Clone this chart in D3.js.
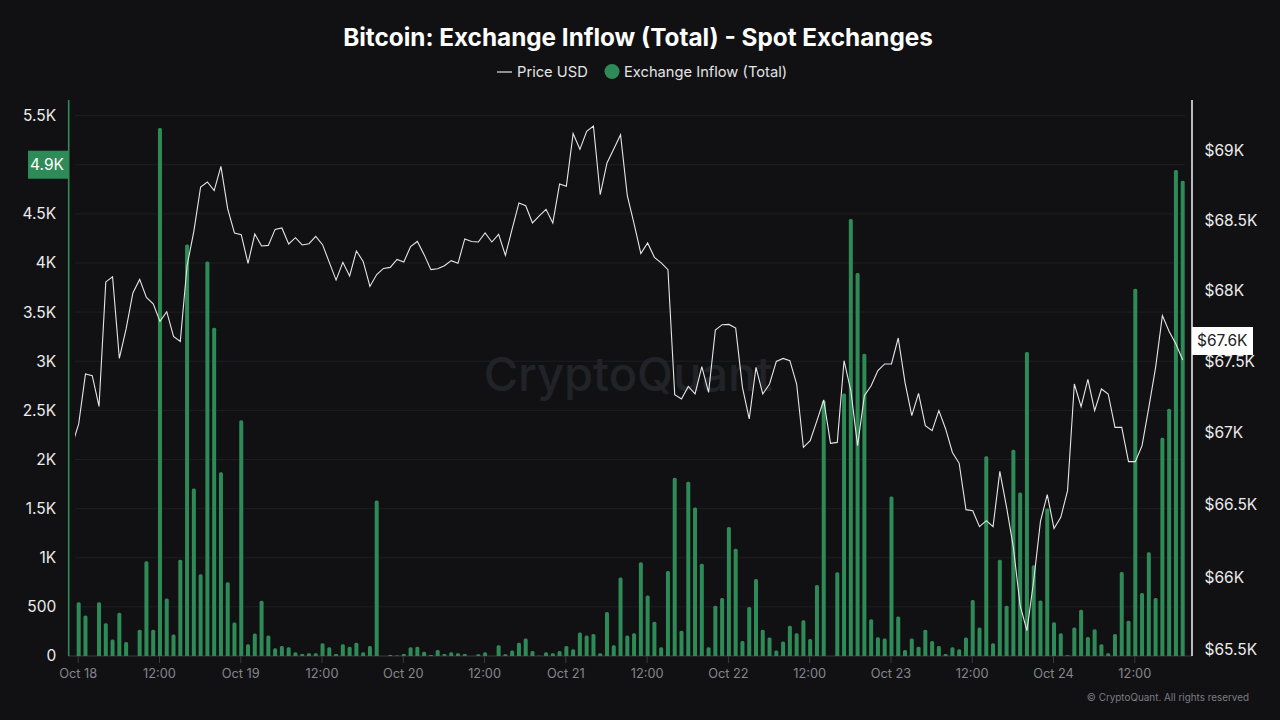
<!DOCTYPE html>
<html>
<head>
<meta charset="utf-8">
<script src="https://cdn.jsdelivr.net/npm/d3@7"></script>
<style>
    html, body { margin: 0; padding: 0; background: #111114; }
    svg { display: block; font-family: Inter, sans-serif; }
</style>
</head>
<body>
<div id="chart"></div>
<script>
// hourly values, first bar is Oct 18 00:00
const inflow = [
    546, 413, 0, 546, 334, 167, 440, 143, 0, 266, 965, 266,
    5373, 586, 218, 979, 4187, 1705, 832, 4014, 3340, 1869, 750, 341,
    2400, 119, 228, 563, 208, 78, 102, 89, 38, 20, 27, 27,
    130, 89, 20, 119, 95, 136, 38, 102, 1582, 0, 10, 5,
    20, 89, 95, 44, 10, 61, 20, 38, 27, 20, 0, 17,
    38, 0, 109, 17, 55, 136, 177, 51, 3, 38, 27, 51,
    102, 68, 239, 208, 225, 27, 447, 109, 798, 208, 232, 955,
    617, 348, 89, 866, 1814, 256, 1773, 1511, 938, 89, 511, 590,
    1313, 1091, 153, 498, 784, 266, 188, 55, 147, 307, 232, 365,
    174, 723, 2600, 0, 853, 2672, 4448, 3899, 3076, 375, 191, 177,
    1623, 402, 61, 177, 95, 266, 153, 102, 20, 89, 68, 188,
    569, 290, 2032, 130, 979, 511, 2100, 1664, 3093, 924, 566, 1500,
    344, 232, 7, 290, 471, 194, 273, 119, 27, 225, 856, 358,
    3737, 641, 1057, 590, 2220, 2517, 4946, 4837
];

const price = [
    67063, 67413, 67401, 67186, 68064, 68101, 67523, 67731, 67986, 68082, 67954, 67908,
    67784, 67853, 67678, 67643, 68179, 68424, 68741, 68777, 68715, 68889, 68584, 68412,
    68400, 68196, 68405, 68320, 68324, 68438, 68448, 68334, 68379, 68327, 68336, 68388,
    68329, 68203, 68077, 68203, 68106, 68284, 68210, 68032, 68116, 68160, 68167, 68224,
    68206, 68315, 68352, 68258, 68151, 68158, 68179, 68215, 68196, 68370, 68352, 68348,
    68412, 68348, 68402, 68253, 68441, 68627, 68607, 68484, 68534, 68581, 68484, 68763,
    68746, 69125, 69012, 69141, 69180, 68686, 68914, 69015, 69117, 68679, 68477, 68265,
    68341, 68239, 68199, 68151, 67268, 67238, 67326, 67273, 67465, 67284, 67723, 67761,
    67763, 67737, 67319, 67098, 67460, 67273, 67343, 67502, 67523, 67507, 67343, 66899,
    66946, 67086, 67231, 66927, 66934, 67507, 67296, 66911, 67261, 67331, 67437, 67484,
    67484, 67667, 67354, 67121, 67277, 67051, 67016, 67156, 67028, 66864, 66788, 66466,
    66459, 66348, 66390, 66348, 66732, 66482, 66205, 65804, 65632, 65975, 66385, 66570,
    66336, 66413, 66598, 67343, 67184, 67375, 67156, 67308, 67273, 67039, 67039, 66800,
    66800, 66911, 67179, 67460, 67825, 67713, 67625, 67512
];
// price just before the first bar, the line runs in from the plot edge
const priceBefore = 66911;

const inflowTicks = [0, 500, 1000, 1500, 2000, 2500, 3000, 3500, 4000, 4500, 5500];
const gridExtra = [5000];
const priceTicks = [65500, 66000, 66500, 67000, 67500, 68000, 68500, 69000];
const timeTickHours = [0, 12, 24, 36, 48, 60, 72, 84, 96, 108, 120, 132, 144, 156];
const timeTickLabels = ['Oct 18', '12:00', 'Oct 19', '12:00', 'Oct 20', '12:00', 'Oct 21', '12:00',
    'Oct 22', '12:00', 'Oct 23', '12:00', 'Oct 24', '12:00'];

const svg = d3.select('#chart')
    .append('svg')
    .attr('width', 1280)
    .attr('height', 720);

svg.append('rect')
    .attr('width', 1280)
    .attr('height', 720)
    .attr('fill', '#111114');

const xScale = d3.scaleLinear().domain([0, 163]).range([78.7, 1182.7]);
const xTickScale = d3.scaleLinear().domain([0, 163]).range([77.7, 1181.7]);
const yLeft = d3.scaleLinear().domain([0, 5500]).range([656, 115.6]);
const yRight = d3.scaleLog().domain([65459, 69368]).range([656, 100]);

svg.append('defs').append('clipPath')
    .attr('id', 'plot-clip')
    .append('rect')
    .attr('x', 75)
    .attr('y', 100)
    .attr('width', 1110)
    .attr('height', 556);

// Gridlines
svg.append('g')
    .selectAll('line')
    .data(inflowTicks.concat(gridExtra).filter(d => d > 0))
    .enter()
    .append('line')
    .attr('x1', 75)
    .attr('x2', 1185)
    .attr('y1', d => yLeft(d))
    .attr('y2', d => yLeft(d))
    .attr('stroke', '#1e1f23')
    .attr('stroke-width', 1);

// Watermark
svg.append('text')
    .attr('x', 628)
    .attr('y', 391)
    .attr('text-anchor', 'middle')
    .attr('font-size', '47px')
    .attr('font-weight', 500)
    .attr('fill', '#222328')
    .text('CryptoQuant');

// Bottom axis
const xAxis = svg.append('g')
    .attr('transform', 'translate(0, 656)')
    .call(d3.axisBottom(xTickScale)
        .tickValues(timeTickHours)
        .tickSize(7)
        .tickFormat((d, i) => timeTickLabels[i]));
xAxis.select('.domain').remove();
xAxis.selectAll('line').attr('stroke', '#3a3b40');
xAxis.selectAll('text')
    .attr('y', 13)
    .attr('font-family', 'Inter, sans-serif')
    .attr('font-size', '12.8px')
    .attr('fill', '#85868b');

svg.append('line')
    .attr('x1', 68)
    .attr('x2', 1192)
    .attr('y1', 656)
    .attr('y2', 656)
    .attr('stroke', '#3a3b40');

// Bars with slightly rounded tops
const barWidth = 4;
const barRadius = 1.5;
svg.append('g')
    .selectAll('path')
    .data(inflow.map((v, i) => ({ v: v, i: i })).filter(d => d.v > 0))
    .enter()
    .append('path')
    .attr('d', d => {
        const left = xScale(d.i) - barWidth / 2;
        const top = yLeft(d.v);
        const r = Math.min(barRadius, (656 - top) / 2);
        const p = d3.path();
        p.moveTo(left, 656);
        p.lineTo(left, top + r);
        p.arcTo(left, top, left + r, top, r);
        p.lineTo(left + barWidth - r, top);
        p.arcTo(left + barWidth, top, left + barWidth, top + r, r);
        p.lineTo(left + barWidth, 656);
        p.closePath();
        return p.toString();
    })
    .attr('fill', '#2e8b57');

// Price line
const line = d3.line()
    .x(d => xScale(d.i))
    .y(d => yRight(d.p));

svg.append('path')
    .datum([{ i: -1, p: priceBefore }].concat(price.map((p, i) => ({ i: i, p: p }))))
    .attr('clip-path', 'url(#plot-clip)')
    .attr('d', line)
    .attr('fill', 'none')
    .attr('stroke', '#e6e6e6')
    .attr('stroke-width', 1.1)
    .attr('stroke-linejoin', 'miter');

// Left axis
const leftAxis = svg.append('g')
    .attr('transform', 'translate(68.7, 0)')
    .call(d3.axisLeft(yLeft)
        .tickValues(inflowTicks)
        .tickSize(0)
        .tickPadding(12.5)
        .tickFormat(d => d < 1000 ? d : (d / 1000) + 'K'));
leftAxis.select('.domain').remove();
leftAxis.selectAll('text')
    .attr('font-family', 'Inter, sans-serif')
    .attr('font-size', '15.5px')
    .attr('fill', '#ececec');

svg.append('line')
    .attr('x1', 68.7)
    .attr('x2', 68.7)
    .attr('y1', 100)
    .attr('y2', 656)
    .attr('stroke', '#2e8b57')
    .attr('stroke-width', 1.6);

// Right axis
const rightAxis = svg.append('g')
    .attr('transform', 'translate(1192, 0)')
    .call(d3.axisRight(yRight)
        .tickValues(priceTicks)
        .tickSize(0)
        .tickPadding(12.5)
        .tickFormat(d => '$' + (d / 1000) + 'K'));
rightAxis.select('.domain').remove();
rightAxis.selectAll('text')
    .attr('font-family', 'Inter, sans-serif')
    .attr('font-size', '15.5px')
    .attr('fill', '#ececec');

svg.append('line')
    .attr('x1', 1192)
    .attr('x2', 1192)
    .attr('y1', 100)
    .attr('y2', 656)
    .attr('stroke', '#e6e6e6')
    .attr('stroke-width', 1.6);

// Last value tags
svg.append('rect')
    .attr('x', 28)
    .attr('y', yLeft(5000) - 14)
    .attr('width', 40)
    .attr('height', 28)
    .attr('fill', '#2e8b57');

svg.append('text')
    .attr('x', 64)
    .attr('y', yLeft(5000))
    .attr('dy', '.35em')
    .attr('text-anchor', 'end')
    .attr('font-size', '15.5px')
    .attr('fill', '#ffffff')
    .text('4.9K');

svg.append('rect')
    .attr('x', 1192)
    .attr('y', 327)
    .attr('width', 61)
    .attr('height', 28)
    .attr('fill', '#ffffff');

svg.append('text')
    .attr('x', 1197)
    .attr('y', 341)
    .attr('dy', '.35em')
    .attr('font-size', '15.5px')
    .attr('fill', '#222222')
    .text('$67.6K');

// Title
svg.append('text')
    .attr('x', 638)
    .attr('y', 37)
    .attr('dy', '.35em')
    .attr('text-anchor', 'middle')
    .attr('font-size', '24.3px')
    .attr('font-weight', 700)
    .attr('fill', '#ffffff')
    .text('Bitcoin: Exchange Inflow (Total) - Spot Exchanges');

// Legend
svg.append('line')
    .attr('x1', 497)
    .attr('x2', 512)
    .attr('y1', 72)
    .attr('y2', 72)
    .attr('stroke', '#e6e6e6')
    .attr('stroke-width', 1.2);

svg.append('text')
    .attr('x', 517)
    .attr('y', 72)
    .attr('dy', '.35em')
    .attr('font-size', '14.7px')
    .attr('fill', '#e4e4e4')
    .text('Price USD');

svg.append('circle')
    .attr('cx', 612)
    .attr('cy', 71.5)
    .attr('r', 7.5)
    .attr('fill', '#2e8b57');

svg.append('text')
    .attr('x', 624)
    .attr('y', 72)
    .attr('dy', '.35em')
    .attr('font-size', '14.7px')
    .attr('fill', '#e4e4e4')
    .text('Exchange Inflow (Total)');

// Footer
svg.append('text')
    .attr('x', 1249)
    .attr('y', 698)
    .attr('dy', '.35em')
    .attr('text-anchor', 'end')
    .attr('font-size', '9.9px')
    .attr('fill', '#7c7d82')
    .text('© CryptoQuant. All rights reserved');
</script>
</body>
</html>
